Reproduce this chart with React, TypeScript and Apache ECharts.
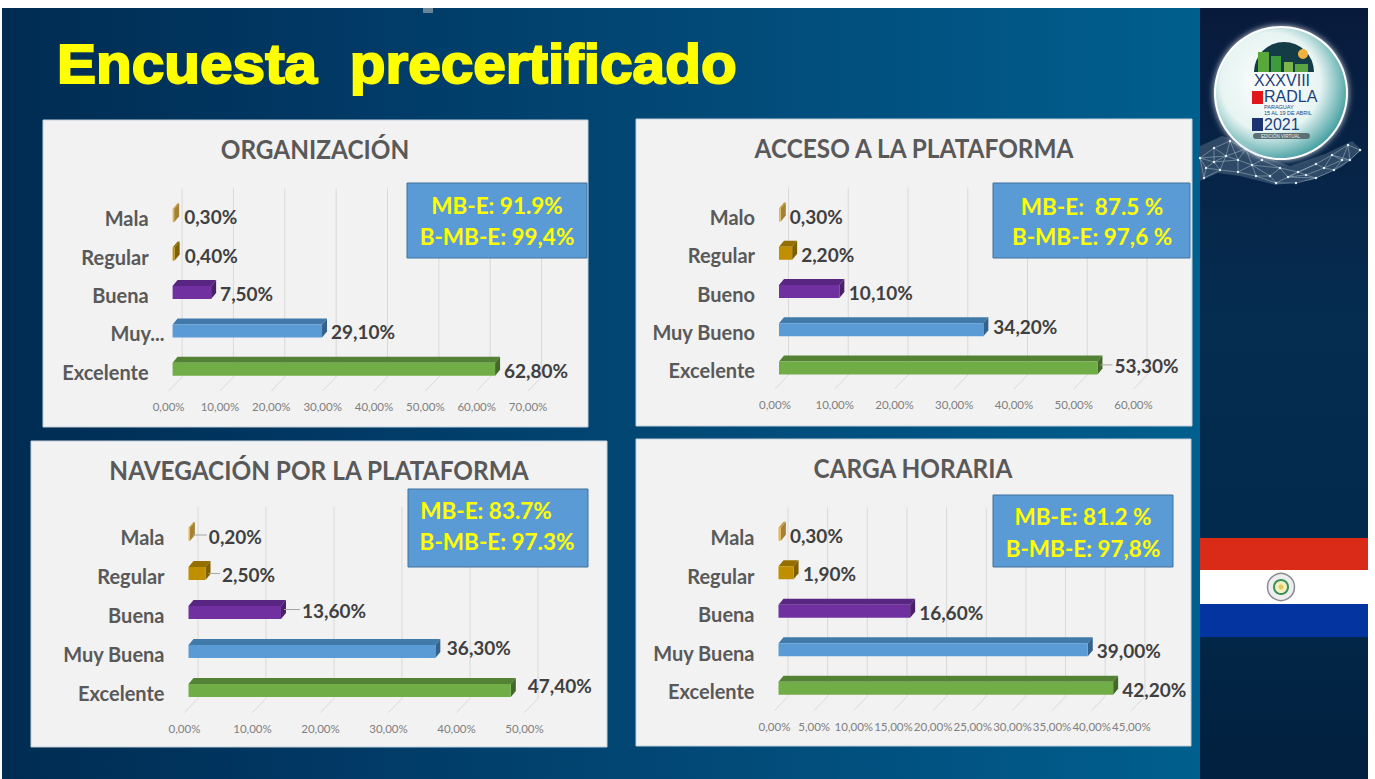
import React, { useEffect, useRef } from "react";
import * as echarts from "echarts";

const catsOrg = ["Mala", "Regular", "Buena", "Muy...", "Excelente"];
const catsAcc = ["Malo", "Regular", "Bueno", "Muy Bueno", "Excelente"];
const catsNav = ["Mala", "Regular", "Buena", "Muy Buena", "Excelente"];
const catsCar = ["Mala", "Regular", "Buena", "Muy Buena", "Excelente"];
const valsOrg = [0.3, 0.4, 7.5, 29.1, 62.8];
const valsAcc = [0.3, 2.2, 10.1, 34.2, 53.3];
const valsNav = [0.2, 2.5, 13.6, 36.3, 47.4];
const valsCar = [0.3, 1.9, 16.6, 39.0, 42.2];
const maxOrg = 70, stepOrg = 10;
const maxAcc = 60, stepAcc = 10;
const maxNav = 50, stepNav = 10;
const maxCar = 45, stepCar = 5;

const FRONT = ["#E3B653", "#BF8F00", "#7030A0", "#5B9BD5", "#70AD47"];
const TOP = ["#C79A3A", "#946F00", "#582680", "#4279AB", "#548235"];
const SIDE = ["#A58232", "#7F6000", "#4A2069", "#34628C", "#43682A"];
const FONT = "Lato, Carlito, sans-serif";

const charts = [
  { title: "ORGANIZACIÓN", tx: 315, ty: 149, cats: catsOrg, vals: valsOrg, max: maxOrg, step: stepOrg,
    left: 172.6, pxPer: 5.135, top: 199, h: 192, shift: -2.5, gaps: [5, 5, 4, 4, 4], lines: [0, 0, 0, 0, 0], labelDy: [0, 0, 0, 0, 0],
    panel: [43, 120, 545, 307], box: [407, 183, 180, 75], boxT: ["MB-E: 91.9%", "B-MB-E: 99,4%"], bx: [497, 497], by: [205.5, 236.5], rightPad: [16, 16, 16, 0, 16] },
  { title: "ACCESO A LA PLATAFORMA", tx: 914, ty: 148, cats: catsAcc, vals: valsAcc, max: maxAcc, step: stepAcc,
    left: 779, pxPer: 5.975, top: 198, h: 191, shift: -2, gaps: [4, 4, 4.5, 5, 12], lines: [0, 0, 0, 0, 1], labelDy: [0, 0, 0, -4.5, -3],
    panel: [636, 119, 556, 307], box: [993, 183, 197, 75], boxT: ["MB-E:  87.5 %", "B-MB-E: 97,6 %"], bx: [1092, 1092], by: [206, 236.5], rightPad: [16, 16, 16, 16, 16] },
  { title: "NAVEGACIÓN POR LA PLATAFORMA", tx: 319, ty: 470, cats: catsNav, vals: valsNav, max: maxNav, step: stepNav,
    left: 188.5, pxPer: 6.8, top: 517.5, h: 195, shift: -2.5, gaps: [14, 11.5, 16, 6.5, 12], lines: [1, 1, 1, 0, 0], labelDy: [0.5, 0, -3, -5.5, -6.5],
    panel: [31, 441, 576, 306], box: [408, 489, 180, 78], boxT: ["MB-E: 83.7%", "B-MB-E: 97.3%"], bx: [486, 497], by: [510.5, 541.5], rightPad: [16, 16, 16, 16, 16] },
  { title: "CARGA HORARIA", tx: 913, ty: 468, cats: catsCar, vals: valsCar, max: maxCar, step: stepCar,
    left: 778.5, pxPer: 7.93, top: 518, h: 192.5, shift: -3, gaps: [4, 4.5, 4, 4, 4], lines: [0, 0, 0, 0, 0], labelDy: [0, 0, 0, 0, 0],
    panel: [636, 439, 555, 307], box: [993, 495, 180, 72], boxT: ["MB-E: 81.2 %", "B-MB-E: 97,8%"], bx: [1083, 1083], by: [516, 548], rightPad: [16, 16, 16, 16, 16] },
];

const pct = (v: number) => v.toFixed(2).replace(".", ",") + "%";

const handOutline: number[][] = [
  [1200, 146], [1222, 136], [1245, 143], [1262, 156], [1290, 166], [1325, 154], [1352, 141], [1362, 150], [1342, 167], [1312, 180], [1276, 185], [1240, 176], [1218, 173], [1200, 181],
];
const netPts: number[][] = [
  [1200, 158], [1214, 148], [1230, 141], [1246, 149], [1262, 160], [1280, 168], [1298, 172], [1316, 164],
  [1332, 155], [1348, 145], [1360, 150], [1350, 160], [1334, 170], [1316, 178], [1296, 183], [1276, 183],
  [1256, 176], [1238, 172], [1220, 170], [1204, 178], [1226, 156], [1252, 165], [1288, 177], [1324, 168],
  [1214, 162], [1238, 160], [1270, 176], [1306, 175], [1342, 160], [1206, 168],
];
const netLinks: number[][] = [
  [0, 1], [1, 2], [2, 3], [3, 4], [4, 5], [5, 6], [6, 7], [7, 8], [8, 9], [9, 10], [10, 11], [11, 12], [12, 13], [13, 14],
  [14, 15], [15, 16], [16, 17], [17, 18], [18, 19], [19, 0], [1, 20], [20, 18], [20, 3], [3, 21], [21, 17], [21, 5], [5, 22],
  [22, 15], [22, 7], [7, 23], [23, 12], [23, 8], [2, 20], [4, 21], [6, 22], [13, 22], [0, 20], [16, 21], [11, 8], [9, 11],
  [24, 0], [24, 20], [24, 18], [24, 29], [25, 20], [25, 3], [25, 21], [25, 17], [26, 5], [26, 15], [26, 21], [26, 16], [27, 6], [27, 22],
  [27, 13], [27, 23], [28, 8], [28, 11], [28, 12], [28, 23], [29, 19], [29, 0], [29, 18], [25, 24], [1, 24], [2, 25], [9, 28],
];

function txt(o: any) {
  return { align: "left", verticalAlign: "middle", textAlign: "left", textVerticalAlign: "middle", fontFamily: "Liberation Sans", fill: "#1c3f7c", ...o };
}

function buildOption() {
  const grid: any[] = [], xAxis: any[] = [], yAxis: any[] = [], series: any[] = [], graphic: any[] = [];

  graphic.push(
    { type: "rect", z: -10, shape: { x: 2, y: 8, width: 1198, height: 771 }, style: { fill: new echarts.graphic.LinearGradient(0, 0, 1, 0, [
      { offset: 0, color: "#002c52" }, { offset: 0.3, color: "#013a66" }, { offset: 0.6, color: "#024a78" }, { offset: 1, color: "#005f8e" }]) } },
    { type: "rect", z: -9, shape: { x: 1200, y: 8, width: 168, height: 771 }, style: { fill: new echarts.graphic.LinearGradient(0, 0, 0, 1, [
      { offset: 0, color: "#081a3c" }, { offset: 0.4, color: "#052d50" }, { offset: 0.7, color: "#022a4c" }, { offset: 1, color: "#02203f" }]) } },
    { type: "rect", z: -8, shape: { x: 423, y: 8, width: 10, height: 5 }, style: { fill: "#9aa3ad", opacity: 0.7 } },
    { type: "text", z: 5, x: 57, y: 35, scaleX: 1.045, style: { text: "Encuesta  precertificado", x: 0, y: 0, fontSize: 56, fontWeight: "bold", fontFamily: "Liberation Sans", fill: "#FFFF00", stroke: "#FFFF00", lineWidth: 2, lineJoin: "round" } },
  );

  // flag
  graphic.push(
    { type: "rect", z: 1, shape: { x: 1200, y: 538, width: 168, height: 32 }, style: { fill: "#D92B18" } },
    { type: "rect", z: 1, shape: { x: 1200, y: 570, width: 168, height: 34 }, style: { fill: "#FFFFFF" } },
    { type: "rect", z: 1, shape: { x: 1200, y: 604, width: 168, height: 33 }, style: { fill: "#0434A0" } },
    { type: "circle", z: 2, shape: { cx: 1281, cy: 587, r: 13.5 }, style: { fill: "#eeeeee", stroke: "#8a8a95", lineWidth: 1.5 } },
    { type: "circle", z: 2, shape: { cx: 1281, cy: 587, r: 7 }, style: { fill: "#f4efc0", stroke: "#3d8f5b", lineWidth: 2 } },
    { type: "circle", z: 2, shape: { cx: 1281, cy: 587, r: 2.5 }, style: { fill: "#e5c95a" } },
  );

  // logo
  graphic.push(
    { type: "circle", z: 1, shape: { cx: 1281, cy: 93, r: 67 }, style: { fill: "#ffffff", shadowColor: "rgba(255,255,255,0.8)", shadowBlur: 6 } },
    { type: "circle", z: 1, shape: { cx: 1281, cy: 93, r: 65 }, style: { fill: new echarts.graphic.RadialGradient(0.42, 0.42, 0.62, [
      { offset: 0, color: "#ffffff" }, { offset: 0.62, color: "#e6f4f2" }, { offset: 1, color: "#3f9c9e" }]) } },
    { type: "sector", z: 2, shape: { cx: 1284, cy: 72, r: 30, r0: 0, startAngle: Math.PI, endAngle: 2 * Math.PI }, style: { fill: "#143c46" } },
    { type: "rect", z: 2, shape: { x: 1258, y: 52, width: 11, height: 20 }, style: { fill: "#58a83a" } },
    { type: "rect", z: 2, shape: { x: 1271, y: 56, width: 10, height: 16 }, style: { fill: "#3f9a3c" } },
    { type: "rect", z: 2, shape: { x: 1284, y: 62, width: 9, height: 10 }, style: { fill: "#7ab648" } },
    { type: "rect", z: 2, shape: { x: 1295, y: 64, width: 13, height: 8 }, style: { fill: "#5aa542" } },
    { type: "circle", z: 2, shape: { cx: 1303, cy: 54, r: 5 }, style: { fill: "#efb23e" } },
    { type: "text", z: 3, style: txt({ text: "XXXVIII", x: 1254, y: 80, fontSize: 16 }) },
    { type: "rect", z: 3, shape: { x: 1252, y: 91, width: 11, height: 13 }, style: { fill: "#e0181c" } },
    { type: "text", z: 3, style: txt({ text: "RADLA", x: 1264, y: 96, fontSize: 16 }) },
    { type: "text", z: 3, style: txt({ text: "PARAGUAY", x: 1264, y: 106.5, fontSize: 5.5 }) },
    { type: "text", z: 3, style: txt({ text: "15 AL 19 DE ABRIL", x: 1264, y: 113, fontSize: 5.5 }) },
    { type: "rect", z: 3, shape: { x: 1252, y: 118, width: 11, height: 13 }, style: { fill: "#1c3470" } },
    { type: "text", z: 3, style: txt({ text: "2021", x: 1264, y: 124, fontSize: 16 }) },
    { type: "rect", z: 3, shape: { x: 1253, y: 133, width: 57, height: 6, r: 3 }, style: { fill: "#5c7176" } },
    { type: "text", z: 4, style: txt({ text: "EDICIÓN VIRTUAL", x: 1261, y: 136, fontSize: 4.5, fill: "#e8f0f0" }) },
    { type: "polygon", z: 5, shape: { points: handOutline }, style: { fill: "rgba(190,210,225,0.22)" } },
  );
  netLinks.forEach(([a, b]) => graphic.push({ type: "line", z: 5, shape: { x1: netPts[a][0], y1: netPts[a][1], x2: netPts[b][0], y2: netPts[b][1] }, style: { stroke: "rgba(205,225,235,0.55)", lineWidth: 0.7 } }));
  netPts.forEach((p) => graphic.push({ type: "circle", z: 5, shape: { cx: p[0], cy: p[1], r: 1.2 }, style: { fill: "#eef6fa" } }));

  charts.forEach((c, i) => {
    const [px, py, pw, ph] = c.panel;
    graphic.push({ type: "rect", z: -5, shape: { x: px, y: py, width: pw, height: ph }, style: { fill: "#F2F2F2", stroke: "#c3d0da", lineWidth: 1 } });
    graphic.push({ type: "text", z: 4, x: c.tx, y: c.ty, scaleX: 0.92, style: { text: c.title, x: 0, y: 0, align: "center", verticalAlign: "middle", textAlign: "center", textVerticalAlign: "middle", fontFamily: FONT, fontWeight: "bold", fontSize: 26.5, fill: "#595959" } });
    grid.push({ left: c.left, top: c.top, width: c.pxPer * c.max, height: c.h, containLabel: false });
    xAxis.push({
      gridIndex: i, type: "value", min: 0, max: c.max, interval: c.step,
      axisLine: { show: false }, axisTick: { show: false }, splitLine: { show: false },
      axisLabel: { formatter: (v: number) => pct(v), color: "#7F7F7F", fontFamily: FONT, fontSize: 11.5, margin: 9.5, padding: [0, 8, 0, 0] },
    });
    yAxis.push({
      gridIndex: i, type: "category", inverse: true, data: c.cats,
      axisLine: { show: false }, axisTick: { show: false }, splitLine: { show: false },
      axisLabel: {
        margin: 8, color: "#595959", fontFamily: FONT, fontWeight: "bold", fontSize: 20,
        formatter: (_: string, idx: number) => `{${c.rightPad[idx] ? "p" : "n"}|${c.cats[idx]}}`,
        rich: {
          p: { padding: [0, 16, 0, 0], color: "#595959", fontFamily: FONT, fontWeight: "bold", fontSize: 20 },
          n: { color: "#595959", fontFamily: FONT, fontWeight: "bold", fontSize: 20 },
        },
      },
    });

    const ticks: number[] = [];
    for (let t = 0; t <= c.max; t += c.step) ticks.push(t);
    series.push({
      type: "custom", coordinateSystem: "cartesian2d", xAxisIndex: i, yAxisIndex: i, z: 1, silent: true,
      encode: { x: 0, y: 1 },
      data: ticks.map((t) => [t, 0]),
      renderItem: (params: any, api: any) => {
        const x = api.coord([api.value(0), 0])[0];
        const cs = params.coordSys;
        const bottom = cs.y + cs.height;
        return {
          type: "polyline",
          shape: { points: [[x - 4, bottom], [x + 9.5, bottom - 14], [x + 9.5, cs.y - 10.5]] },
          style: { stroke: "#D9D9D9", lineWidth: 1, fill: "none" },
        };
      },
    });
    series.push({
      type: "custom", coordinateSystem: "cartesian2d", xAxisIndex: i, yAxisIndex: i, z: 3, silent: true,
      encode: { x: 0, y: 1 },
      data: c.vals.map((v, k) => [v, k]),
      renderItem: (_: any, api: any) => {
        const k = api.value(1);
        const v = api.value(0);
        const [xe, yc0] = api.coord([v, k]);
        const x0 = api.coord([0, k])[0];
        const yc = yc0 + c.shift;
        const ht = 6.5, dx = 5, dy = 6;
        const yT = yc - ht, yB = yc + ht;
        const lx = xe + dx + c.gaps[k];
        const ly = yc + c.labelDy[k];
        const children: any[] = [
          { type: "polygon", shape: { points: [[x0, yT], [x0 + dx, yT - dy], [xe + dx, yT - dy], [xe, yT]] }, style: { fill: TOP[k] } },
          { type: "polygon", shape: { points: [[xe, yT], [xe + dx, yT - dy], [xe + dx, yB - dy], [xe, yB]] }, style: { fill: SIDE[k] } },
          { type: "rect", shape: { x: x0, y: yT, width: xe - x0, height: yB - yT }, style: { fill: FRONT[k] } },
        ];
        if (c.lines[k]) {
          children.push({ type: "line", shape: { x1: xe + dx - 2, y1: ly, x2: lx - 2, y2: ly }, style: { stroke: "#A6A6A6", lineWidth: 1 } });
        }
        children.push({ type: "text", x: lx, y: ly + 1, style: { text: pct(v), align: "left", verticalAlign: "middle", textAlign: "left", textVerticalAlign: "middle", fill: "#404040", font: `bold 19px ${FONT}` } });
        return { type: "group", children };
      },
    });

    const [bx, by, bw, bh] = c.box;
    graphic.push({ type: "rect", z: 20, shape: { x: bx, y: by, width: bw, height: bh }, style: { fill: "#5B9BD5", stroke: "#41719C", lineWidth: 1 } });
    c.boxT.forEach((t, n) => graphic.push({ type: "text", z: 21, style: { text: t, x: c.bx[n], y: c.by[n], align: "center", verticalAlign: "middle", textAlign: "center", textVerticalAlign: "middle", font: `bold 22.5px ${FONT}`, fill: "#FFFF00" } }));
  });

  return { animation: false, backgroundColor: "#ffffff", grid, xAxis, yAxis, series, graphic: { elements: graphic } };
}

export default function App() {
  const ref = useRef<HTMLDivElement>(null);
  useEffect(() => {
    const chart = echarts.init(ref.current!, undefined, { renderer: "svg" });
    chart.setOption(buildOption() as any);
    return () => chart.dispose();
  }, []);
  return <div ref={ref} style={{ position: "fixed", left: 0, top: 0, width: 1375, height: 779 }} />;
}
